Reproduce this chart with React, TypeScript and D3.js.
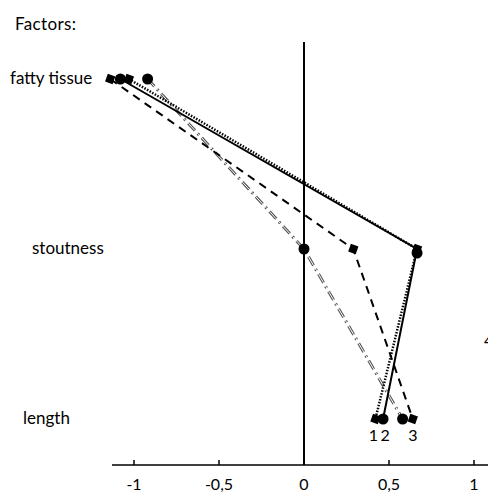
import React from "react";
import * as d3 from "d3";

const factors = ["fatty tissue", "stoutness", "length"];
const seriesNames = ["1", "2", "3", "4"];
// values per factor, in order of factors
const series1 = [-1.03, 0.665, 0.42];
const series2 = [-1.08, 0.665, 0.465];
const series3 = [-1.14, 0.29, 0.64];
const series4 = [-0.92, 0.0, 0.58];
const xTicks = [-1, -0.5, 0, 0.5, 1];
const xTickLabels = ["-1", "-0,5", "0", "0,5", "1"];

const W = 488;
const H = 493;

const App = () => {
  const x = d3.scaleLinear().domain([-1, 1]).range([134, 474]);
  const y = d3.scalePoint<string>().domain(factors).range([79, 419]);
  const axisY = 465;

  const line = d3
    .line<number>()
    .x((d) => x(d))
    .y((_, i) => y(factors[i]) as number);

  const font = "Lato, 'Open Sans', sans-serif";
  const labelX: Record<string, number> = { "fatty tissue": 10, stoutness: 32, length: 23 };
  const sq = 8;

  const data = [
    { name: seriesNames[0], vals: series1 },
    { name: seriesNames[1], vals: series2 },
    { name: seriesNames[2], vals: series3 },
    { name: seriesNames[3], vals: series4 },
  ];

  return (
    <svg width={W} height={H} style={{ position: "absolute", left: 0, top: 0 }}>
      <rect width={W} height={H} fill="#fff" />
      <text x={15} y={30} fontFamily={font} fontSize={17} textLength={61}>Factors:</text>
      {factors.map((f) => (
        <text key={f} x={labelX[f]} y={(y(f) as number) + 5} fontFamily={font} fontSize={17}>
          {f}
        </text>
      ))}

      {/* axes */}
      <line x1={x(0)} x2={x(0)} y1={42} y2={axisY} stroke="#000" strokeWidth={2} />
      <line x1={112} x2={W} y1={axisY} y2={axisY} stroke="#000" strokeWidth={1.5} />
      {xTicks.map((t, i) => (
        <g key={t}>
          <line x1={x(t)} x2={x(t)} y1={axisY - 5} y2={axisY} stroke="#000" strokeWidth={1.5} />
          <text x={x(t)} y={490} textAnchor="middle" fontFamily={font} fontSize={16}>
            {xTickLabels[i]}
          </text>
        </g>
      ))}

      {/* series 4: gray double dash-dot */}
      <path d={line(data[3].vals) || ""} fill="none" stroke="#555" strokeWidth={3} strokeDasharray="10,4,2,4" />
      <path d={line(data[3].vals) || ""} fill="none" stroke="#fff" strokeWidth={1} strokeDasharray="10,4,2,4" />
      {/* series 3: dashed */}
      <path d={line(data[2].vals) || ""} fill="none" stroke="#000" strokeWidth={2} strokeDasharray="8,6" />
      {/* series 1: dotted */}
      <path d={line(data[0].vals) || ""} fill="none" stroke="#000" strokeWidth={2.5} strokeDasharray="1.5,1.5" />
      {/* series 2: solid */}
      <path d={line(data[1].vals) || ""} fill="none" stroke="#000" strokeWidth={2} />

      {/* markers */}
      {data[3].vals.map((v, i) => (
        <circle key={"c4" + i} cx={x(v)} cy={y(factors[i]) as number} r={5.5} fill="#000" />
      ))}
      {data[2].vals.map((v, i) => (
        <rect key={"s3" + i} x={x(v) - sq / 2} y={(y(factors[i]) as number) - sq / 2} width={sq} height={sq} fill="#000"
          transform={`rotate(20,${x(v)},${y(factors[i])})`} />
      ))}
      {data[0].vals.map((v, i) => (
        <rect key={"s1" + i} x={x(v) - sq / 2} y={(y(factors[i]) as number) - sq / 2} width={sq} height={sq} fill="#000"
          transform={`rotate(20,${x(v)},${y(factors[i])})`} />
      ))}
      {data[1].vals.map((v, i) => (
        <circle key={"c2" + i} cx={x(v)} cy={(y(factors[i]) as number) + (i === 1 ? 4 : 0)} r={5.5} fill="#000" />
      ))}

      {/* series labels */}
      {data.slice(0, 3).map((s) => (
        <text key={s.name} x={x(s.vals[2]) + (s.name === "1" ? -2 : s.name === "2" ? 2 : 0)} y={441}
          textAnchor="middle" fontFamily={font} fontSize={16}>
          {s.name}
        </text>
      ))}
      <text x={484} y={346} fontFamily={font} fontSize={16}>{data[3].name}</text>
    </svg>
  );
};

export default App;
